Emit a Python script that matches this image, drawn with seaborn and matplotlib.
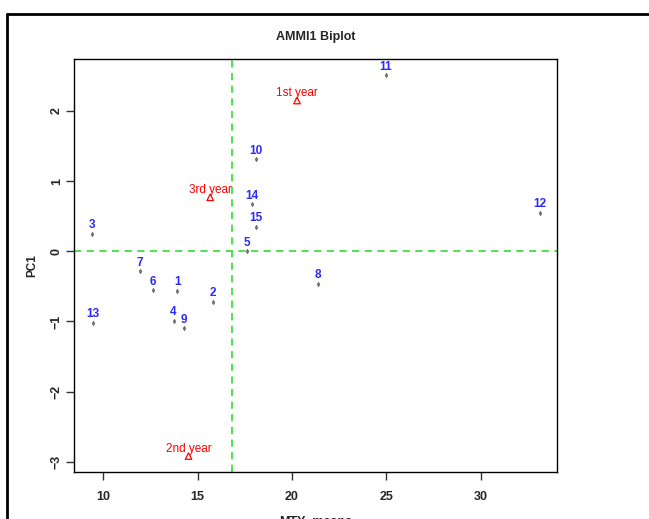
import numpy as np
import pandas as pd
import seaborn as sns
import matplotlib
import matplotlib.pyplot as plt
from matplotlib.lines import Line2D
matplotlib.use("Agg")

# genotype means (MTY) and PC1 scores
geno_labels = ["1", "2", "3", "4", "5", "6", "7", "8", "9", "10", "11", "12", "13", "14", "15"]
geno_mty = [13.92, 15.80, 9.42, 13.73, 17.63, 12.62, 11.93, 21.38, 14.29, 18.08, 24.97, 33.13, 9.47, 17.88, 18.08]
geno_pc1 = [-0.57, -0.72, 0.25, -0.99, 0.00, -0.556, -0.285, -0.47, -1.10, 1.31, 2.51, 0.546, -1.02, 0.67, 0.35]

# environments
env_labels = ["1st year", "2nd year", "3rd year"]
env_mty = [20.27, 14.52, 15.67]
env_pc1 = [2.15, -2.92, 0.77]

geno = pd.DataFrame({"name": geno_labels, "MTY": geno_mty, "PC1": geno_pc1})
env = pd.DataFrame({"name": env_labels, "MTY": env_mty, "PC1": env_pc1})

sns.set_style("ticks")
plt.rcParams["font.family"] = ["Liberation Sans", "DejaVu Sans"]

fig = plt.figure(figsize=(6.49, 5.19), dpi=100)
ax = fig.add_axes([0.114, 0.0906, 0.744, 0.7954])

grand_mean = np.mean(geno_mty)
ax.axvline(grand_mean, color="#3fe03f", lw=1.3, ls=(0, (4, 3)), zorder=1)
ax.axhline(0, color="#3fe03f", lw=1.3, ls=(0, (4, 3)), zorder=1)

sns.scatterplot(data=geno, x="MTY", y="PC1", ax=ax, marker="d", s=5,
                color="#777777", edgecolor="#666666", linewidth=0.5, zorder=3)
sns.scatterplot(data=env, x="MTY", y="PC1", ax=ax, marker="^", s=22,
                facecolor="none", edgecolor="red", linewidth=0.9, zorder=3)

for _, r in geno.iterrows():
    ax.annotate(r["name"], (r["MTY"], r["PC1"]), xytext=(0, 2), textcoords="offset points",
                ha="center", va="bottom", color="#2a2aff", fontsize=8.5, fontweight="bold")
for _, r in env.iterrows():
    ax.annotate(r["name"], (r["MTY"], r["PC1"]), xytext=(0, 3), textcoords="offset points",
                ha="center", va="baseline", color="red", fontsize=8.5)

ax.set_xlim(8.45, 34.04)
ax.set_ylim(-3.147, 2.74)
ax.set_xticks([10, 15, 20, 25, 30])
ax.set_yticks([-3, -2, -1, 0, 1, 2])
ax.tick_params(axis="both", length=6, width=1, color="#333333", labelsize=9)
ax.tick_params(axis="x", pad=8)
ax.tick_params(axis="y", pad=2)
for lab in ax.get_yticklabels():
    lab.set_rotation(90)
    lab.set_va("center")
for lab in ax.get_xticklabels() + ax.get_yticklabels():
    lab.set_fontweight("bold")
for s in ax.spines.values():
    s.set_visible(True)
    s.set_color("black")
    s.set_linewidth(1)

ax.set_xlabel("MTY_means", fontsize=9, fontweight="bold", labelpad=9)
ax.set_ylabel("PC1", fontsize=8.5, fontweight="bold", labelpad=9)
ax.set_title("AMMI1 Biplot", fontsize=9, fontweight="bold", pad=14)

# outer frame lines
fig.add_artist(Line2D([0.0108, 0.0108], [0, 0.973], color="black", lw=2))
fig.add_artist(Line2D([0.0108, 1], [0.973, 0.973], color="black", lw=2))

fig.savefig("out.png", dpi=100)
